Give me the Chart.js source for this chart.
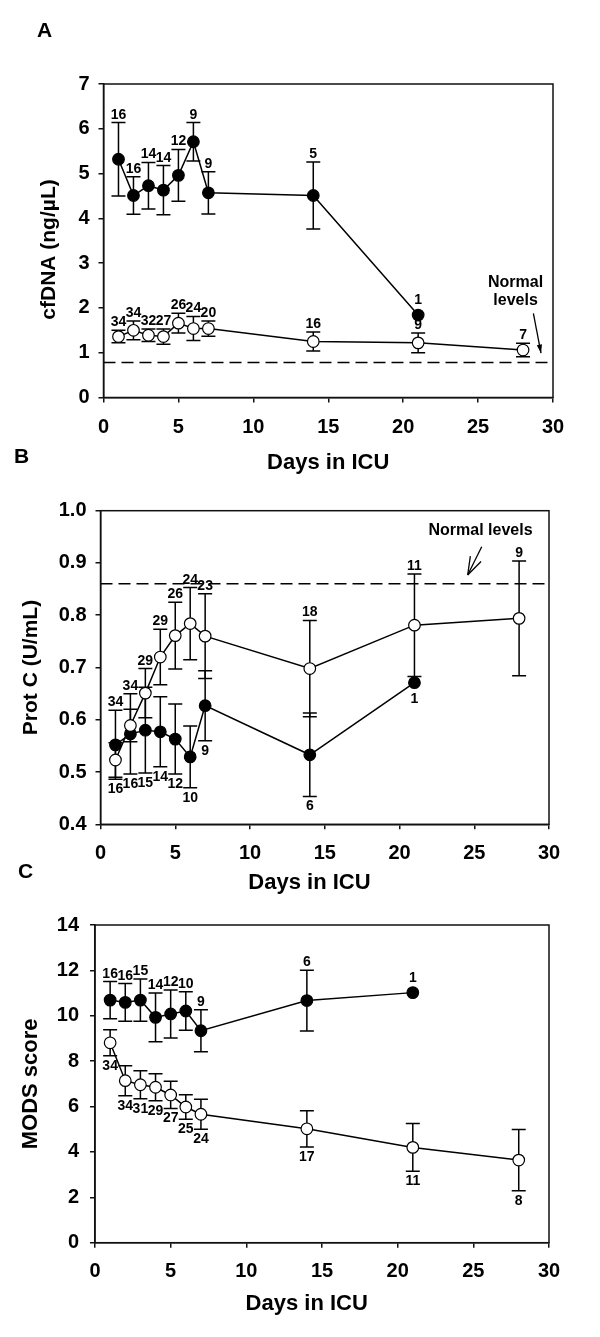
<!DOCTYPE html>
<html lang="en">
<head>
<meta charset="UTF-8">
<title>cfDNA, Prot C and MODS score by days in ICU</title>
<script src="https://cdn.jsdelivr.net/npm/chart.js"></script>
<style>
  body { margin: 0; background: #fff; width: 600px; height: 1337px; position: relative; overflow: hidden; }
  canvas { position: absolute; left: 0; }
  .letter { position: absolute; font: bold 21px 'Liberation Sans', Arial, sans-serif; line-height: 1; color: #000; }
</style>
</head>
<body>
<canvas id="cA" width="600" height="480" style="top:0"></canvas>
<canvas id="cB" width="600" height="460" style="top:440px"></canvas>
<canvas id="cC" width="600" height="457" style="top:880px"></canvas>
<div class="letter" style="left:37px;top:19px">A</div>
<div class="letter" style="left:14px;top:445px">B</div>
<div class="letter" style="left:18px;top:860px">C</div>

<script>
// days of sampling
const blackDays = [1, 2, 3, 4, 5, 6, 7, 14, 21];
const whiteDays = [1, 2, 3, 4, 5, 6, 7, 14, 21, 28];
const xTicks = ['0', '5', '10', '15', '20', '25', '30'];

// A - cfDNA (ng/uL)
const aBlack    = [5.32, 4.51, 4.73, 4.63, 4.96, 5.71, 4.57, 4.51, 1.84];
const aBlackErr = [0.82, 0.42, 0.52, 0.55, 0.58, 0.43, 0.47, 0.75, null];
const aBlackN   = ['16', '16', '14', '14', '12', '9', '9', '5', '1'];
const aWhite    = [1.36, 1.50, 1.39, 1.36, 1.66, 1.54, 1.54, 1.25, 1.22, 1.06];
const aWhiteErr = [0.14, 0.21, 0.14, 0.17, 0.22, 0.27, 0.17, 0.21, 0.22, 0.15];
const aWhiteN   = ['34', '34', '32', '27', '26', '24', '20', '16', '9', '7'];
const aNormal   = 0.78;
const aYTicks   = ['0', '1', '2', '3', '4', '5', '6', '7'];

// B - Prot C (U/mL)
const bBlack    = [0.552, 0.573, 0.580, 0.577, 0.563, 0.529, 0.627, 0.533, 0.671];
const bBlackErr = [0.066, 0.077, 0.082, 0.067, 0.067, 0.059, 0.067, 0.080, null];
const bBlackN   = ['16', '16', '15', '14', '12', '10', '9', '6', '1'];
const bWhite    = [0.523, 0.589, 0.651, 0.720, 0.761, 0.784, 0.760, 0.698, 0.781, 0.794];
const bWhiteErr = [0.033, 0.031, 0.047, 0.053, 0.064, 0.069, 0.081, 0.092, 0.098, 0.110];
const bWhiteN   = ['34', '34', '29', '29', '26', '24', '23', '18', '11', '9'];
const bNormal   = 0.86;
const bYTicks   = ['0.4', '0.5', '0.6', '0.7', '0.8', '0.9', '1.0'];

// C - MODS score
const cBlack    = [10.69, 10.59, 10.69, 9.93, 10.08, 10.21, 9.34, 10.67, 11.02];
const cBlackErr = [0.82, 0.83, 0.93, 1.07, 1.06, 0.85, 0.93, 1.34, null];
const cBlackN   = ['16', '16', '15', '14', '12', '10', '9', '6', '1'];
const cWhite    = [8.81, 7.14, 6.96, 6.85, 6.51, 5.98, 5.66, 5.02, 4.20, 3.64];
const cWhiteErr = [0.57, 0.66, 0.62, 0.59, 0.60, 0.54, 0.66, 0.80, 1.05, 1.35];
const cWhiteN   = ['34', '34', '31', '29', '27', '25', '24', '17', '11', '8'];
const cYTicks   = ['0', '2', '4', '6', '8', '10', '12', '14'];

const FONT = "'Liberation Sans', Arial, sans-serif";
const R = 5.8;

function pts(xs, ys) {
  return xs.map((x, i) => ({ x: x, y: ys[i] }));
}

// where the n label of a point sits (pushed past the other series' bar if it is in the way)
function labelAnchor(chart, di, i) {
  const ds = chart.data.datasets[di];
  const p = ds.data[i], e = ds.err[i] || 0;
  const up = ds.side === 'up';
  let v = up ? p.y + e : p.y - e;
  chart.data.datasets.forEach((o, oi) => {
    if (oi === di) return;
    const j = o.data.findIndex(q => q.x === p.x);
    if (j < 0 || !o.err[j]) return;
    const lo = o.data[j].y - o.err[j], hi = o.data[j].y + o.err[j];
    if (v >= lo && v <= hi) v = up ? hi : lo;
  });
  return { v: v, bare: !e };
}

const panelPlugin = {
  id: 'panel',
  beforeDatasetsDraw(chart) {
    const { ctx, chartArea: a, scales: { x, y } } = chart;
    const o = chart.options.plugins.panel;
    ctx.save();
    ctx.strokeStyle = '#000';
    ctx.lineWidth = 1.5;
    if (o.normal != null) {
      const yn = y.getPixelForValue(o.normal);
      ctx.setLineDash([12, 6]);
      ctx.beginPath();
      ctx.moveTo(a.left, yn);
      ctx.lineTo(a.right, yn);
      ctx.stroke();
      ctx.setLineDash([]);
    }
    // error bars
    chart.data.datasets.forEach(ds => {
      ds.data.forEach((p, i) => {
        const e = ds.err[i];
        if (!e) return;
        const px = x.getPixelForValue(p.x);
        const hi = y.getPixelForValue(p.y + e);
        const lo = y.getPixelForValue(p.y - e);
        ctx.beginPath();
        ctx.moveTo(px, hi); ctx.lineTo(px, lo);
        ctx.moveTo(px - 7, hi); ctx.lineTo(px + 7, hi);
        ctx.moveTo(px - 7, lo); ctx.lineTo(px + 7, lo);
        ctx.stroke();
      });
    });
    ctx.restore();
  },
  afterDraw(chart) {
    const { ctx, chartArea: a, scales: { x, y } } = chart;
    const o = chart.options.plugins.panel;
    ctx.save();
    // box round the plot
    ctx.strokeStyle = '#111';
    ctx.lineWidth = 1.5;
    ctx.strokeRect(a.left, a.top, a.right - a.left, a.bottom - a.top);

    // n labels
    ctx.fillStyle = '#000';
    ctx.textAlign = 'center';
    ctx.font = 'bold 14px ' + FONT;
    chart.data.datasets.forEach((ds, di) => {
      ds.data.forEach((p, i) => {
        const an = labelAnchor(chart, di, i);
        const px = x.getPixelForValue(p.x);
        const py = y.getPixelForValue(an.v);
        if (ds.side === 'up') {
          ctx.textBaseline = 'alphabetic';
          ctx.fillText(ds.nLabels[i], px, py - (an.bare ? R + 5 : 4));
        } else {
          ctx.textBaseline = 'top';
          ctx.fillText(ds.nLabels[i], px, py + (an.bare ? R + 4 : 3));
        }
      });
    });

    // "Normal levels" note with its arrow
    const n = o.note;
    if (n) {
      ctx.font = 'bold 16px ' + FONT;
      ctx.textBaseline = 'alphabetic';
      n.lines.forEach((t, k) => ctx.fillText(t, x.getPixelForValue(n.x), y.getPixelForValue(n.y[k])));
      const x0 = x.getPixelForValue(n.arrow[0]), y0 = y.getPixelForValue(n.arrow[1]);
      const x1 = x.getPixelForValue(n.arrow[2]), y1 = y.getPixelForValue(n.arrow[3]);
      const ang = Math.atan2(y1 - y0, x1 - x0);
      ctx.strokeStyle = '#000';
      ctx.lineWidth = 1.3;
      ctx.beginPath();
      ctx.moveTo(x0, y0);
      ctx.lineTo(x1, y1);
      ctx.stroke();
      if (n.open) {
        ctx.beginPath();
        [-0.32, 0.32].forEach(d => {
          ctx.moveTo(x1, y1);
          ctx.lineTo(x1 - 19 * Math.cos(ang + d), y1 - 19 * Math.sin(ang + d));
        });
        ctx.stroke();
      } else {
        ctx.beginPath();
        ctx.moveTo(x1, y1);
        ctx.lineTo(x1 - 9 * Math.cos(ang - 0.3), y1 - 9 * Math.sin(ang - 0.3));
        ctx.lineTo(x1 - 9 * Math.cos(ang + 0.3), y1 - 9 * Math.sin(ang + 0.3));
        ctx.closePath();
        ctx.fill();
      }
    }
    ctx.restore();
  }
};

function series(xs, ys, err, labels, side, fill) {
  return {
    data: pts(xs, ys),
    err: err,
    nLabels: labels,
    side: side,
    showLine: true,
    borderColor: '#000',
    borderWidth: 1.5,
    pointRadius: R,
    pointBorderWidth: 1.2,
    pointBorderColor: '#000',
    pointBackgroundColor: fill
  };
}

function makePanel(id, cfg) {
  const axisFont = { family: FONT, size: 20, weight: 'bold' };
  const grid = { display: true, drawOnChartArea: false, drawTicks: true, tickLength: 5, color: '#111', lineWidth: 1.5 };
  const border = { display: true, color: '#111', width: 1.5 };
  new Chart(document.getElementById(id), {
    type: 'scatter',
    data: { datasets: cfg.datasets },
    options: {
      responsive: false,
      animation: false,
      events: [],
      layout: { padding: cfg.padding },
      scales: {
        x: {
          type: 'linear', min: 0, max: 30,
          grid: grid, border: border,
          ticks: { stepSize: 5, color: '#000', font: axisFont, padding: cfg.xTickPad, maxRotation: 0,
                   callback: (v, i) => xTicks[i] },
          title: { display: true, text: cfg.xTitle, color: '#000',
                   font: { family: FONT, size: 22, weight: 'bold' }, padding: { top: 0, bottom: cfg.xTitlePad } },
          afterFit: s => { s.height = cfg.xHeight; }
        },
        y: {
          min: cfg.yMin, max: cfg.yMax,
          grid: grid, border: border,
          ticks: { stepSize: cfg.yStep, color: '#000', font: axisFont, padding: cfg.yTickPad,
                   callback: (v, i) => cfg.yTicks[i] },
          title: { display: true, text: cfg.yTitle, color: '#000',
                   font: { family: FONT, size: cfg.yTitleSize, weight: 'bold' }, padding: { top: cfg.yTitlePad, bottom: 0 } },
          afterFit: s => { s.width = cfg.yWidth; }
        }
      },
      plugins: {
        legend: { display: false },
        tooltip: { enabled: false },
        panel: { normal: cfg.normal, note: cfg.note }
      }
    },
    plugins: [panelPlugin]
  });
}

const nb = k => '\u00a0'.repeat(k);

makePanel('cA', {
  datasets: [
    series(whiteDays, aWhite, aWhiteErr, aWhiteN, 'up', '#fff'),
    series(blackDays, aBlack, aBlackErr, aBlackN, 'up', '#000')
  ],
  padding: { top: 84, right: 47, left: 0, bottom: 0 },
  xHeight: 82.5, yWidth: 103.5,
  xTickPad: 13, yTickPad: 9,
  xTitle: 'Days in ICU', xTitlePad: 4,
  yTitle: 'cfDNA (ng/µL)' + nb(3), yTitleSize: 21, yTitlePad: 37,
  yMin: 0, yMax: 7, yStep: 1, yTicks: aYTicks,
  normal: aNormal,
  note: { lines: ['Normal', 'levels'], x: 27.5, y: [2.47, 2.07], arrow: [28.69, 1.88, 29.2, 0.99], open: false }
});

makePanel('cB', {
  datasets: [
    series(whiteDays, bWhite, bWhiteErr, bWhiteN, 'up', '#fff'),
    series(blackDays, bBlack, bBlackErr, bBlackN, 'down', '#000')
  ],
  padding: { top: 70.7, right: 51, left: 0, bottom: 0 },
  xHeight: 75.7, yWidth: 100.5,
  xTickPad: 12, yTickPad: 9,
  xTitle: 'Days in ICU' + nb(5), xTitlePad: 4,
  yTitle: 'Prot C (U/mL)', yTitleSize: 21, yTitlePad: 19,
  yMin: 0.4, yMax: 1.0, yStep: 0.1, yTicks: bYTicks,
  normal: bNormal,
  note: { lines: ['Normal levels'], x: 25.42, y: [0.953], arrow: [25.5, 0.931, 24.56, 0.877], open: true }
});

makePanel('cC', {
  datasets: [
    series(whiteDays, cWhite, cWhiteErr, cWhiteN, 'down', '#fff'),
    series(blackDays, cBlack, cBlackErr, cBlackN, 'up', '#000')
  ],
  padding: { top: 45, right: 51, left: 0, bottom: 0 },
  xHeight: 94.3, yWidth: 95,
  xTickPad: 12, yTickPad: 11,
  xTitle: 'Days in ICU' + nb(5), xTitlePad: 20,
  yTitle: 'MODS score', yTitleSize: 22, yTitlePad: 17.5,
  yMin: 0, yMax: 14, yStep: 2, yTicks: cYTicks,
  normal: null,
  note: null
});
</script>
</body>
</html>
